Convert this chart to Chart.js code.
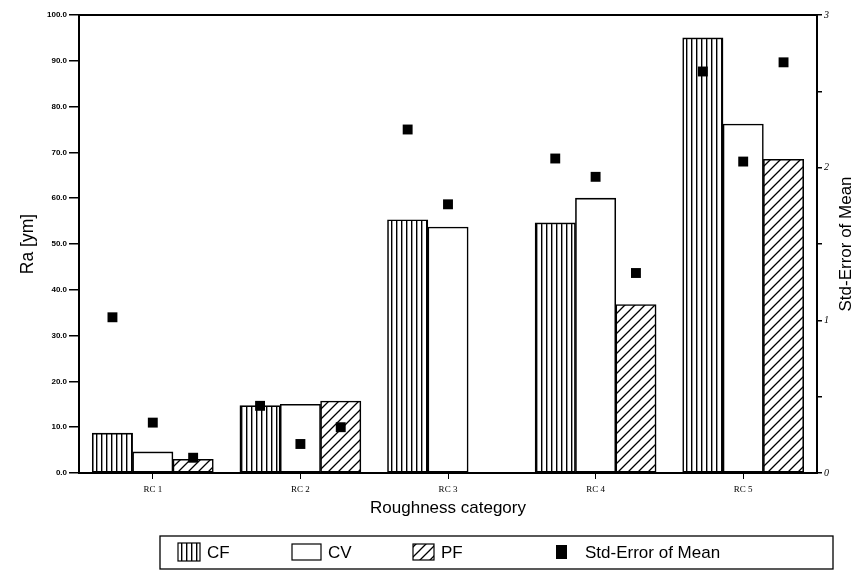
<!DOCTYPE html>
<html><head><meta charset="utf-8">
<script src="https://cdn.jsdelivr.net/npm/chart.js@4.4.0/dist/chart.umd.min.js"></script>
<style>html,body{margin:0;padding:0;background:#fff}</style>
</head><body>
<canvas id="c" width="856" height="572"></canvas>
<script>
// ---- data ----
const categories = ['RC 1', 'RC 2', 'RC 3', 'RC 4', 'RC 5'];
const cfValues = [8.7, 14.7, 55.3, 54.6, 95.0];
const cvValues = [4.6, 15.0, 53.7, 60.0, 76.2];
const pfValues = [3.0, 15.7, 0, 36.8, 68.5];
const seCF = [1.02, 0.44, 2.25, 2.06, 2.63];
const seCV = [0.33, 0.19, 1.76, 1.94, 2.04];
const sePF = [0.10, 0.30, null, 1.31, 2.69];
const seriesNames = ['CF', 'CV', 'PF'];
const seName = 'Std-Error of Mean';
const leftTickStep = 10;
const rightTickStep = 0.5;

// ---- patterns ----
function makeStripes() {
  const c = document.createElement('canvas'); c.width = 5; c.height = 8;
  const g = c.getContext('2d');
  g.fillStyle = '#fff'; g.fillRect(0, 0, 5, 8);
  g.fillStyle = '#000'; g.fillRect(1, 0, 1.4, 8);
  return g.createPattern(c, 'repeat');
}
function makeDiag() {
  const s = 10;
  const c = document.createElement('canvas'); c.width = s; c.height = s;
  const g = c.getContext('2d');
  g.fillStyle = '#fff'; g.fillRect(0, 0, s, s);
  g.strokeStyle = '#000'; g.lineWidth = 1.3;
  g.beginPath();
  g.moveTo(0, s); g.lineTo(s, 0);
  g.moveTo(-s / 2, s / 2); g.lineTo(s / 2, -s / 2);
  g.moveTo(s / 2, s * 1.5); g.lineTo(s * 1.5, s / 2);
  g.stroke();
  return g.createPattern(c, 'repeat');
}
const ctx0 = document.getElementById('c').getContext('2d');
const fills = [makeStripes(), '#ffffff', makeDiag()];
const FONT = '"Liberation Sans", Arial, sans-serif';

// group occupies this share of each category; each series gets a third of it
const groupShare = 0.82;
const slot = groupShare / 3;
const barSeries = [cfValues, cvValues, pfValues];
const seSeries = [seCF, seCV, sePF];

const datasets = [];
seSeries.forEach((arr, j) => {
  datasets.push({
    type: 'scatter', label: seName, xAxisID: 'xp', yAxisID: 'y2', order: 0,
    data: arr.map((v, i) => v == null ? null : { x: i + (j - 1) * slot, y: v }).filter(p => p),
    pointStyle: 'rect', pointRadius: 7, pointHoverRadius: 7,
    backgroundColor: '#000', borderColor: '#000', borderWidth: 0, showLine: false
  });
});
barSeries.forEach((arr, j) => {
  datasets.push({
    type: 'bar', label: seriesNames[j], xAxisID: 'xp', yAxisID: 'y', order: 1,
    data: arr.map((v, i) => ({ x: i + (j - 1) * slot, y: v })),
    backgroundColor: fills[j], borderColor: '#000', borderWidth: 1.6,
    borderSkipped: false, grouped: false, categoryPercentage: 1.0, barPercentage: 1.0
  });
});

const framePlugin = {
  id: 'frame',
  beforeDatasetsDraw(chart) {
    const a = chart.chartArea, g = chart.ctx;
    g.save(); g.strokeStyle = '#000'; g.lineWidth = 2;
    g.strokeRect(a.left, a.top, a.right - a.left, a.bottom - a.top);
    g.restore();
  }
};
const rightTitlePlugin = {
  id: 'rtitle',
  afterDraw(chart) {
    const a = chart.chartArea, g = chart.ctx;
    g.save();
    g.translate(846, (a.top + a.bottom) / 2);
    g.rotate(-Math.PI / 2);
    g.font = '17px ' + FONT;
    g.fillStyle = '#000'; g.textAlign = 'center'; g.textBaseline = 'middle';
    g.fillText(seName, 0, 0);
    g.restore();
  }
};
const legendPlugin = {
  id: 'boxlegend',
  afterDraw(chart) {
    const g = chart.ctx;
    g.save();
    g.strokeStyle = '#000'; g.lineWidth = 1.3;
    g.strokeRect(160, 536, 673, 33);
    const cy = 552;
    g.font = '17px ' + FONT;
    g.fillStyle = '#000'; g.textBaseline = 'middle'; g.textAlign = 'left';
    const items = [
      { x: 178, w: 22, h: 18, fill: fills[0], text: seriesNames[0] },
      { x: 292, w: 29, h: 16, fill: fills[1], text: seriesNames[1] },
      { x: 413, w: 21, h: 16, fill: fills[2], text: seriesNames[2] },
    ];
    items.forEach(it => {
      g.fillStyle = it.fill; g.fillRect(it.x, cy - it.h / 2, it.w, it.h);
      g.strokeStyle = '#000'; g.lineWidth = 1.2; g.strokeRect(it.x, cy - it.h / 2, it.w, it.h);
      g.fillStyle = '#000'; g.fillText(it.text, it.x + it.w + 7, cy + 1);
    });
    g.fillStyle = '#000'; g.fillRect(556, cy - 7, 11, 14);
    g.fillText(seName, 585, cy + 1);
    g.restore();
  }
};

const chart = new Chart(ctx0, {
  data: { labels: categories, datasets },
  plugins: [framePlugin, rightTitlePlugin, legendPlugin],
  options: {
    responsive: false, animation: false,
    layout: { padding: { top: 15, left: 0, right: 0, bottom: 42 } },
    plugins: { legend: { display: false }, tooltip: { enabled: false } },
    scales: {
      x: {
        type: 'category', offset: true, position: 'bottom',
        grid: { offset: false, drawOnChartArea: false, drawTicks: true, tickLength: 6, color: '#000', lineWidth: 1 },
        border: { display: false },
        ticks: { color: '#000', font: { family: '"Liberation Serif", serif', size: 9 }, padding: 5, maxRotation: 0 },
        title: { display: true, text: 'Roughness category', color: '#000', font: { family: FONT, size: 17 }, padding: { top: 0, bottom: 11 } },
        afterFit(s) { s.height = 57; }
      },
      xp: { type: 'linear', display: false, offset: false, min: -0.5, max: categories.length - 0.5 },
      y: {
        position: 'left', min: 0, max: 100,
        ticks: { stepSize: leftTickStep, color: '#000', padding: 2, font: { family: FONT, size: 8, weight: 'bold' }, callback: v => Number(v).toFixed(1) },
        grid: { drawOnChartArea: false, drawTicks: true, tickLength: 10, color: '#000', lineWidth: 1.5 },
        border: { display: false },
        title: { display: true, text: 'Ra [ym]', color: '#000', font: { family: FONT, size: 17.5 }, padding: { top: 18, bottom: 0 } },
        afterFit(s) { s.width = 79; }
      },
      y2: {
        position: 'right', min: 0, max: 3,
        ticks: { stepSize: rightTickStep, color: '#000', padding: 2, font: { family: '"Liberation Serif", serif', size: 10, style: 'italic' }, callback: v => (Math.abs(v - Math.round(v)) < 1e-9 ? String(Math.round(v)) : '') },
        grid: { drawOnChartArea: false, drawTicks: true, tickLength: 5, color: '#000', lineWidth: 1.5 },
        border: { display: false },
        title: { display: false },
        afterFit(s) { s.width = 39; }
      }
    }
  }
});
</script>
</body></html>
